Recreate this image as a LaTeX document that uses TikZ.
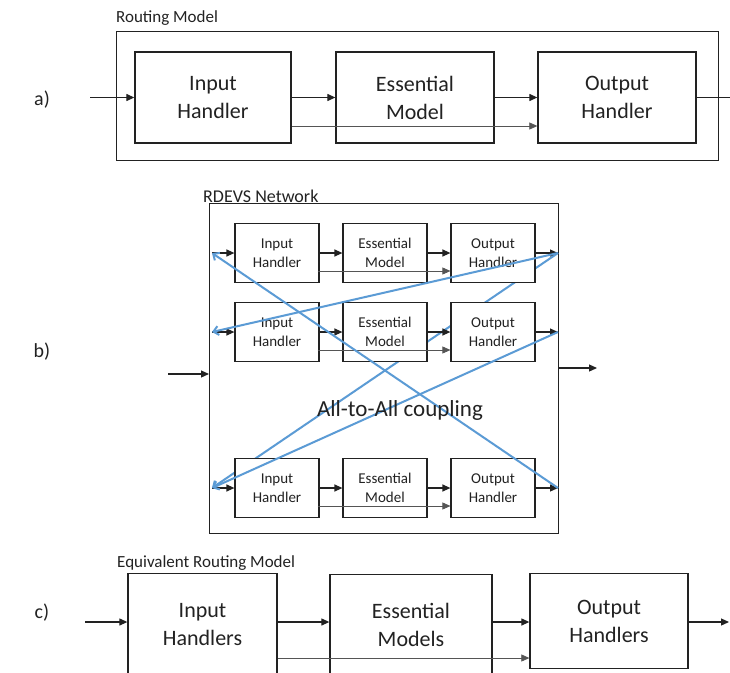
\documentclass[tikz,border=0pt]{standalone}
\usepackage{fontspec}
\setmainfont{Carlito}
\usetikzlibrary{arrows.meta}
\definecolor{linkblue}{HTML}{5B9BD5}
\definecolor{ink}{HTML}{222222}
\definecolor{bypassgray}{HTML}{555555}
\tikzset{
  frame/.style={draw=ink, line width=1.3pt, inner sep=0pt, fill=white},
  bigbox/.style={draw=ink, line width=1.3pt, fill=white, inner sep=0pt, align=center,
    text=ink, font=\fontsize{22}{28}\selectfont},
  smallbox/.style={draw=ink, line width=1.2pt, fill=white, inner sep=0pt, align=center,
    text=ink, minimum width=84, minimum height=59, font=\fontsize{15}{19}\selectfont},
  title/.style={inner sep=0pt, text=ink, font=\fontsize{17}{20}\selectfont},
  lbl/.style={inner sep=0pt, text=ink, font=\fontsize{20}{24}\selectfont},
  arr/.style={draw=ink, line width=1.2pt, -{Triangle[length=8pt,width=7pt]}},
  byp/.style={draw=bypassgray, line width=0.7pt, -{Triangle[length=8pt,width=7pt]}},
  link/.style={draw=linkblue, line width=2pt, -{Straight Barb[length=5pt,width=9pt]}}
}
\begin{document}
\begin{tikzpicture}[x=1pt,y=-1pt]
\clip (0,0) rectangle (730,672);

% ---------------- a) routing model ----------------
\node[lbl] (la) at (42,100) {a)};
\node[title, anchor=base west] (ta) at (116,22) {Routing Model};
\node[frame, minimum width=602, minimum height=129, anchor=north west] (fa) at (116,31) {};
\node[bigbox, minimum width=156, minimum height=91] (ia) at (213,97.5) {Input\\Handler};
\node[bigbox, minimum width=158, minimum height=91] (ea) at (415,97.5) {Essential\\Model};
\node[bigbox, minimum width=158, minimum height=91] (oa) at (617,97.5) {Output\\Handler};
\coordinate (ina) at (90,97.5);
\coordinate (outa) at (742,97.5);
\coordinate (bya) at (0,126);
\draw[arr] (ina) -- (ia.west);
\draw[arr] (ia.east) -- (ea.west);
\draw[arr] (ea.east) -- (oa.west);
\draw[arr] (oa.east) -- (outa);
\draw[byp] (ia.east |- bya) -- (oa.west |- bya);

% ---------------- b) RDEVS network ----------------
\node[lbl] (lb) at (42,352) {b)};
\node[frame, minimum width=349, minimum height=330, anchor=north west] (fb) at (209,203) {};
\node[title, anchor=base west, font=\fontsize{18}{21}\selectfont] (tb) at (203,202) {RDEVS Network};
\foreach \r/\y in {1/253,2/332,3/488} {
  \coordinate (in\r) at (212,\y);
  \coordinate (out\r) at (558,\y);
}
% this coupling runs behind the handler boxes
\draw[link] (out1) -- (in3);
\foreach \r/\y in {1/253,2/332,3/488} {
  \node[smallbox] (i\r) at (277,\y) {Input\\Handler};
  \node[smallbox] (e\r) at (385,\y) {Essential\\Model};
  \node[smallbox] (o\r) at (493,\y) {Output\\Handler};
  \draw[arr] (in\r) -- (i\r.west);
  \draw[arr] (i\r.east) -- (e\r.west);
  \draw[arr] (e\r.east) -- (o\r.west);
  \draw[arr] (o\r.east) -- (out\r);
  \draw[byp] ([xshift=-2pt,yshift=-18pt]i\r.east) -- ([yshift=-18pt]o\r.west);
}
\coordinate (extin) at (168,374);
\coordinate (extout) at (597,368);
\draw[arr] (extin) -- (fb.west |- extin);
\draw[arr] (fb.east |- extout) -- (extout);
\draw[link] (out1) -- (in2);
\draw[link] (out2) -- (in3);
\draw[link] (out3) -- (in1);
\node[inner sep=0pt, text=ink, font=\fontsize{23}{27}\selectfont] (cpl) at (400,410) {All-to-All coupling};

% ---------------- c) equivalent routing model ----------------
\node[lbl] (lc) at (42,613) {c)};
\node[title, anchor=base west] (tc) at (117,567) {Equivalent Routing Model};
\node[bigbox, minimum width=149, minimum height=101, anchor=north] (ic) at (202.5,573) {Input\\Handlers};
\node[bigbox, minimum width=162, minimum height=101, anchor=north] (ec) at (411,574) {Essential\\Models};
\node[bigbox, minimum width=158, minimum height=95, anchor=north] (oc) at (609,573) {Output\\Handlers};
\coordinate (yc) at (0,622);
\coordinate (inc) at (85,622);
\coordinate (outc) at (729,622);
\coordinate (byc) at (0,658);
\draw[arr] (inc) -- (ic.west |- yc);
\draw[arr] (ic.east |- yc) -- (ec.west |- yc);
\draw[arr] (ec.east |- yc) -- (oc.west |- yc);
\draw[arr] (oc.east |- yc) -- (outc);
\draw[byp] (ic.east |- byc) -- (oc.west |- byc);
\end{tikzpicture}
\end{document}
